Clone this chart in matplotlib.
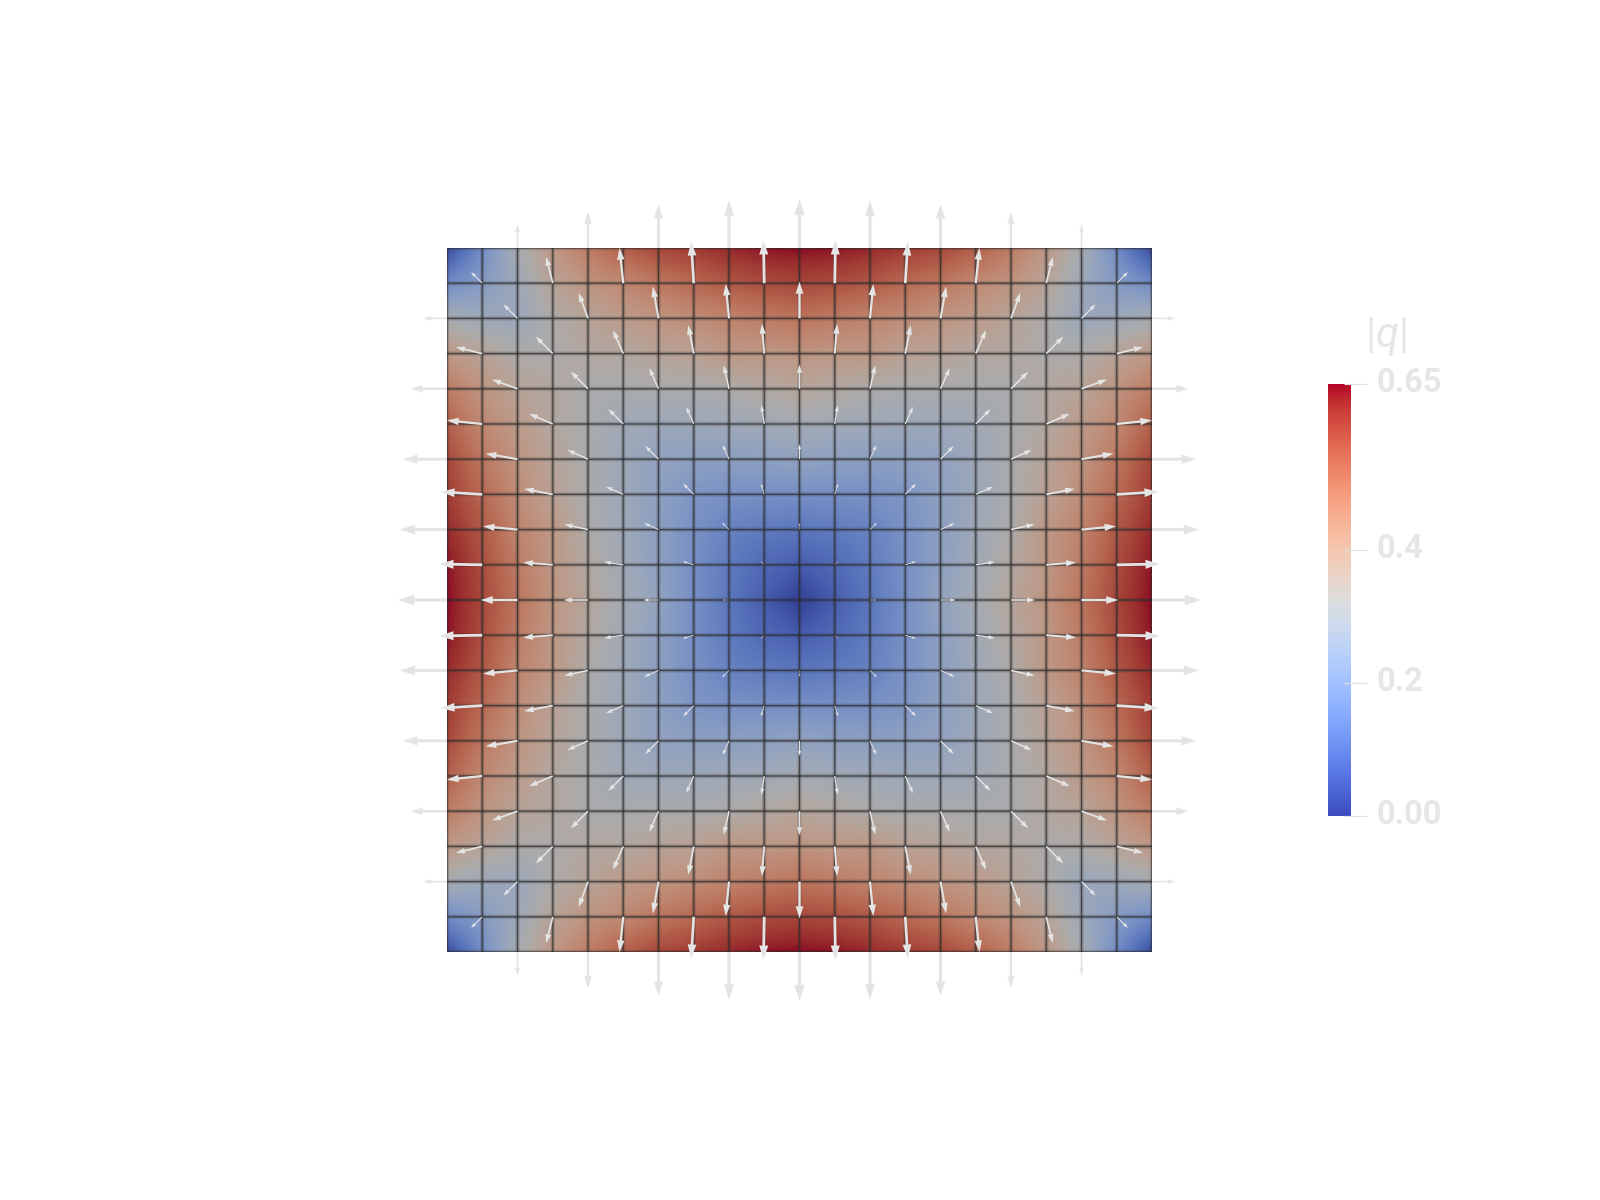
import numpy as np
import matplotlib
matplotlib.use('Agg')
import matplotlib.pyplot as plt
from matplotlib.cm import ScalarMappable
from matplotlib.colors import ListedColormap, Normalize
from matplotlib.transforms import ScaledTranslation

plt.rcParams['font.family'] = ['Roboto', 'DejaVu Sans']
plt.rcParams['mathtext.fontset'] = 'custom'
plt.rcParams['mathtext.rm'] = 'Roboto'
plt.rcParams['mathtext.it'] = 'Roboto:italic'

# |q| colour, one octant of the mesh nodes
# row b holds nodes a = b..10 (b = cells from the nearest edge)
Q_ROWS = [
    [0.02, 0.17, 0.31, 0.41, 0.48, 0.54, 0.58, 0.60, 0.625, 0.645, 0.65],
    [0.22, 0.28, 0.37, 0.42, 0.45, 0.49, 0.52, 0.55, 0.57, 0.58],
    [0.27, 0.33, 0.37, 0.40, 0.42, 0.44, 0.46, 0.48, 0.50],
    [0.33, 0.35, 0.35, 0.37, 0.38, 0.41, 0.41, 0.42],
    [0.32, 0.32, 0.32, 0.32, 0.33, 0.35, 0.36],
    [0.29, 0.28, 0.28, 0.285, 0.29, 0.30],
    [0.25, 0.24, 0.235, 0.24, 0.25],
    [0.20, 0.185, 0.18, 0.18],
    [0.145, 0.125, 0.115],
    [0.085, 0.06],
    [0.00],
]
# arrow length in units of |q|, row b holds a = b, b+2, ...
ARROW_ROWS = [
    [0.00, 0.31, 0.48, 0.585, 0.63, 0.65],
    [0.21, 0.36, 0.47, 0.55, 0.57],
    [0.265, 0.36, 0.43, 0.46, 0.49],
    [0.32, 0.34, 0.385, 0.395],
    [0.32, 0.30, 0.32, 0.32],
    [0.28, 0.25, 0.255],
    [0.25, 0.205, 0.20],
    [0.20, 0.15],
    [0.13, 0.085],
    [0.065],
    [0.00],
]
# arrow tilt from the edge normal in degrees, same layout
TILT_ROWS = [
    [45, 0, 0, 0, 0, 0],
    [45, 14, 6, 3.5, 1],
    [45, 20, 10, 5.5, 0],
    [45, 23.5, 11, 4.5],
    [45, 24, 12.5, 0],
    [45, 24, 8.5],
    [45, 24, 0],
    [45, 17],
    [45, 0],
    [45],
    [0],
]
CBAR_TICKS = [0.0, 0.2, 0.4, 0.65]
CBAR_LABELS = ['0.00', '0.2', '0.4', '0.65']

N = 20
ARROW_SCALE = 2.14      # cells per unit of |q|
TXT = '#e6e6e6'
ARROW = '#e4e4e4'

# unfold octant to the whole mesh
Q = np.zeros((N + 1, N + 1))
for j in range(N + 1):
    for i in range(N + 1):
        a, b = min(i, N - i), min(j, N - j)
        if a < b:
            a, b = b, a
        Q[j, i] = Q_ROWS[b][a - b]

# lighting in the render makes the mesh darker and duller than the colour bar
base = plt.get_cmap('coolwarm')(np.linspace(0, 1, 256))
base[:, :3] = base[:, :3] * 0.74 + 0.03
dark = ListedColormap(base)
norm = Normalize(0, 0.65)

fig = plt.figure(figsize=(16, 12), dpi=100)
ax = fig.add_axes([447 / 1600, 1 - 952 / 1200, 705 / 1600, 704 / 1200])
xn = np.arange(N + 1)
ax.imshow(Q, extent=(-0.5, N + 0.5, -0.5, N + 0.5), origin='lower',
          interpolation='bilinear', cmap=dark, norm=norm, aspect='auto', zorder=1)

# mesh lines, soft halo under a thin core
for lw, alpha, zo in [(3.2, 0.16, 2), (1.7, 0.22, 2), (0.8, 0.7, 3)]:
    ax.hlines(xn, 0, N, color='#2c2c2c', lw=lw, alpha=alpha, zorder=zo, snap=False)
    ax.vlines(xn, 0, N, color='#2c2c2c', lw=lw, alpha=alpha, zorder=zo, snap=False)

# arrows on the nodes with i + j even, all sizes scale with the length
for j in range(N + 1):
    for i in range(N + 1):
        if (i + j) % 2:
            continue
        a, b = min(i, N - i), min(j, N - j)
        sx = np.sign(i - N / 2)
        sy = np.sign(j - N / 2)
        if a >= b:
            k = (a - b) // 2
            t = np.radians(TILT_ROWS[b][k])
            L = ARROW_ROWS[b][k] * ARROW_SCALE
            dx, dy = sx * np.sin(t), sy * np.cos(t)
        else:
            k = (b - a) // 2
            t = np.radians(TILT_ROWS[a][k])
            L = ARROW_ROWS[a][k] * ARROW_SCALE
            dx, dy = sx * np.cos(t), sy * np.sin(t)
        if L == 0:
            continue
        ax.arrow(i, j, dx * L, dy * L, width=0.065 * L, head_width=0.21 * L,
                 head_length=0.33 * L, length_includes_head=True,
                 fc=ARROW, ec='none', clip_on=False, zorder=4)
ax.set_xlim(0, N)
ax.set_ylim(0, N)
ax.set_axis_off()

# colour bar
cax = fig.add_axes([1328 / 1600, 1 - 816 / 1200, 23 / 1600, 432 / 1200])
cb = fig.colorbar(ScalarMappable(norm=norm, cmap='coolwarm'), cax=cax)
cb.outline.set_visible(False)
cb.set_ticks(CBAR_TICKS, labels=CBAR_LABELS)
cax.tick_params(axis='y', length=11.5, width=0.9, color='#e0e0e0', pad=6.5,
                labelsize=23.5, labelcolor=TXT)
up = ScaledTranslation(0, 5 / 100, fig.dpi_scale_trans)
for lb in cax.get_yticklabels():
    lb.set_fontweight('bold')
    lb.set_transform(lb.get_transform() + up)
cax.hlines(CBAR_TICKS, 0.7, 1, color='#e0e0e0', lw=0.9, clip_on=False)

fig.text(1386 / 1600, 1 - 337 / 1200, r'$|q|$', color=TXT, fontsize=30,
         ha='center', va='center')

fig.savefig('out.png', dpi=100, facecolor='white')
